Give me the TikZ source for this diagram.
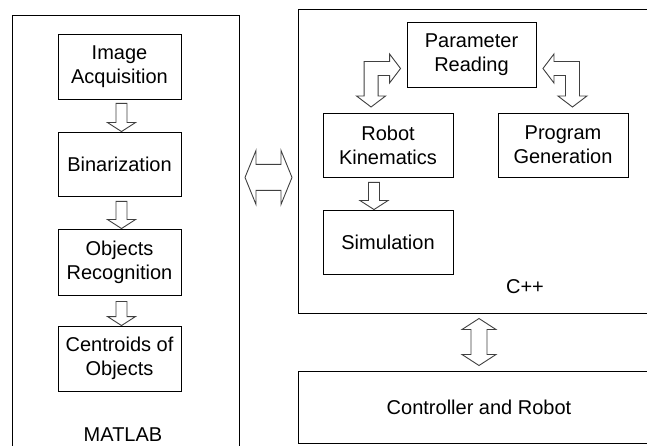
\documentclass[tikz,border=0pt]{standalone}
\usepackage{fontspec}
\setmainfont{Liberation Sans}
\usetikzlibrary{calc,positioning}

\tikzset{
  box/.style={draw, line width=0.9pt, minimum width=123pt, minimum height=65pt,
    align=center, inner sep=0pt, font=\fontsize{20}{24}\selectfont},
  frame/.style={draw, line width=0.9pt, inner sep=0pt},
  lbl/.style={inner sep=0pt, font=\fontsize{20}{24}\selectfont},
  blk/.style={draw=black!75, line width=0.9pt, fill=white, line join=miter},
}

% straight block arrow pointing down, #1 = top of shaft, #2 = tip
\newcommand{\downblock}[2]{%
  \draw[blk] ($(#1)+(-5.5,0)$) -- ($(#2)+(-5.5,-9)$) -- ($(#2)+(-14,-9)$) -- (#2)
    -- ($(#2)+(14,-9)$) -- ($(#2)+(5.5,-9)$) -- ($(#1)+(5.5,0)$) -- cycle;}
% bent block arrow, #1 = corner, #2 = 1 (head right) or -1 (head left)
\newcommand{\bentblock}[2]{%
  \draw[blk,shift={(#1)},xscale=#2] (29.5,0) -- (18.5,14.5) -- (18.5,7) -- (7,7)
    -- (7,27.5) -- (14.5,27.5) -- (0,38.5) -- (-14.5,27.5) -- (-7,27.5) -- (-7,-7)
    -- (18.5,-7) -- (18.5,-14.5) -- cycle;}
% double block arrow, #1 = centre, #2 = angle, #3 = half shaft, #4 = half head
\newcommand{\dblblock}[4]{%
  \draw[blk,shift={(#1)},rotate=#2] (-23.5,0) -- (-12.5,-#4) -- (-12.5,-#3)
    -- (12.5,-#3) -- (12.5,-#4) -- (23.5,0) -- (12.5,#4) -- (12.5,#3)
    -- (-12.5,#3) -- (-12.5,#4) -- cycle;}

\begin{document}
\begin{tikzpicture}[x=1pt,y=-1pt]
\clip (0,0) rectangle (647,446);

% MATLAB side
\node[frame, minimum width=227pt, minimum height=435pt] (matlab) at (125.5,232.5) {};
\node[box] (acq) at (119.5,66.5) {Image\\Acquisition};
\node[box, minimum height=64pt] (bin) at (119.5,164) {Binarization};
\node[box, minimum height=66pt] (rec) at (119.5,262) {Objects\\Recognition};
\node[box] (cen) at (119.5,358.5) {Centroids of\\Objects};
\node[lbl] (matlabl) at (123,435) {MATLAB};

% C++ side
\node[frame, minimum width=362pt, minimum height=304pt] (cpp) at (479,161) {};
\node[box, minimum width=129pt] (par) at (471.5,54.5) {Parameter\\Reading};
\node[box, minimum width=130pt, minimum height=64pt] (kin) at (388,145) {Robot\\Kinematics};
\node[box, minimum width=130pt, minimum height=64pt] (gen) at (563,145) {Program\\Generation};
\node[box, minimum width=130pt, minimum height=64pt] (sim) at (388,242) {Simulation};
\node[lbl] (cppl) at (525,287) {C++};

\node[frame, minimum width=362pt, minimum height=72pt, font=\fontsize{20}{24}\selectfont]
  (ctrl) at (479,407) {Controller and Robot};

% arrows
\coordinate (a1) at ($(acq.south)+(2,4)$);
\coordinate (t1) at ($(bin.north)+(2,0)$);
\coordinate (a2) at ($(bin.south)+(2,5)$);
\coordinate (t2) at ($(rec.north)+(2,0)$);
\coordinate (a3) at ($(rec.south)+(2,6)$);
\coordinate (t3) at ($(cen.north)+(2,0)$);
\coordinate (a4) at ($(kin.south)+(-14,5)$);
\coordinate (t4) at ($(sim.north)+(-14,0)$);
\downblock{a1}{t1}
\downblock{a2}{t2}
\downblock{a3}{t3}
\downblock{a4}{t4}

\coordinate (lbend) at ($(par.west)+(-35.5,14)$);
\coordinate (rbend) at ($(par.east)+(36,14)$);
\bentblock{lbend}{1}
\bentblock{rbend}{-1}

\coordinate (hmid) at ($(matlab.east|-kin.south)!0.5!(cpp.west|-kin.south)$);
\coordinate (vmid) at ($(cpp.south)!0.5!(ctrl.north)$);
\dblblock{hmid}{0}{13}{27}
\dblblock{vmid}{90}{8}{17}
\end{tikzpicture}
\end{document}
